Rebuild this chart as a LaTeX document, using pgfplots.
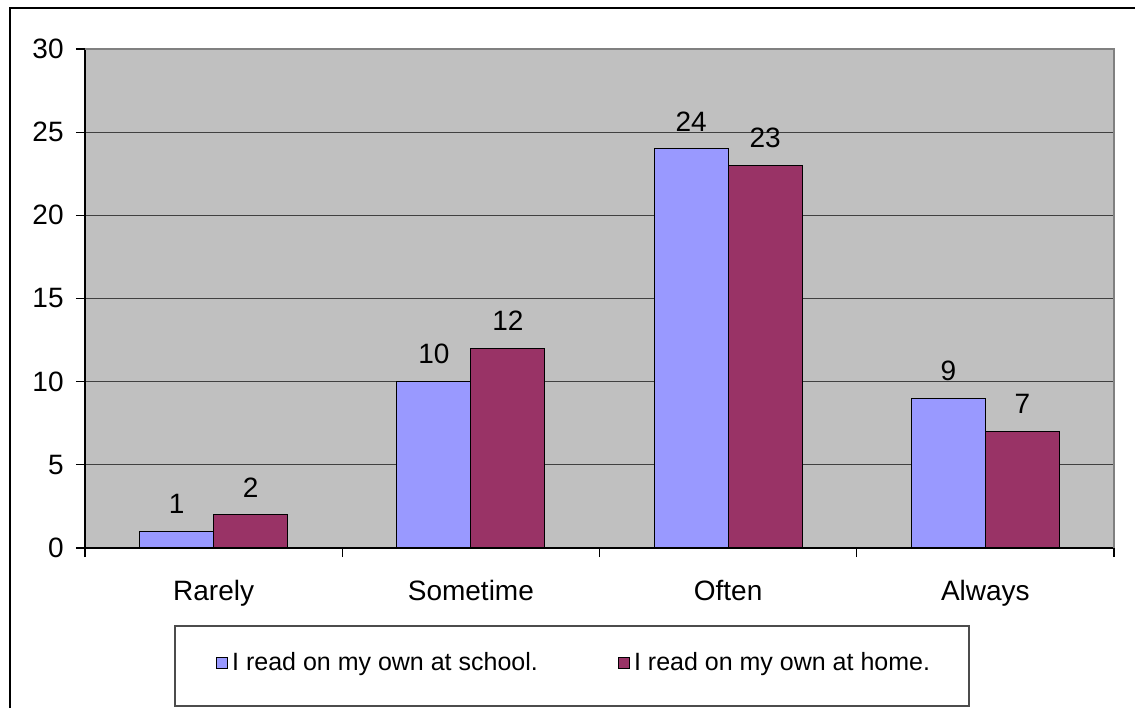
\documentclass[border=0pt]{standalone}
\usepackage{pgfplots}
\pgfplotsset{compat=1.18}
\usepackage{fontspec}
\setmainfont{Liberation Sans}
\definecolor{plotbg}{HTML}{C0C0C0}
\definecolor{sblue}{HTML}{9999FF}
\definecolor{smaroon}{HTML}{993366}
\definecolor{gridc}{HTML}{404040}
\begin{document}
\begin{tikzpicture}[font=\fontsize{14}{16}\selectfont]
\path[use as bounding box] (0,0) rectangle (567.5pt,354pt);
\draw[line width=1pt] (5pt,0pt) -- (5pt,350pt) -- (567.5pt,350pt);
\draw[line width=0.6pt, black!70] (87.5pt,1pt) rectangle (484.5pt,41pt);
\begin{axis}[
  at={(42.5pt,80pt)}, anchor=south west,
  scale only axis, width=514.5pt, height=249.5pt,
  clip=false,
  xmin=-0.5, xmax=3.5, ymin=0, ymax=30,
  ybar=0pt, bar width=37pt,
  axis lines*=left,
  axis line style={black, line width=0.6pt},
  axis background/.style={fill=plotbg},
  xtick={0,1,2,3},
  xticklabels={Rarely,Sometime,Often,Always},
  minor xtick={-0.5,0.5,1.5,2.5,3.5},
  major x tick style={draw=none},
  minor x tick style={black, line width=0.6pt},
  ytick={0,5,10,15,20,25,30},
  y tick style={black, line width=0.6pt},
  tick align=outside,
  major tick length=4.5pt, minor tick length=4.5pt,
  ymajorgrids,
  major grid style={gridc, line width=0.6pt},
  /pgf/number format/assume math mode=true,
  ticklabel style={font=\fontsize{14}{16}\selectfont},
  xticklabel style={inner sep=0pt, anchor=north, yshift=-11.5pt},
  yticklabel style={inner sep=0pt, anchor=east, xshift=-6pt},
  nodes near coords,
  nodes near coords style={font=\fontsize{14}{16}\selectfont, inner sep=0pt, anchor=south, yshift=8.5pt, black},
  legend columns=2,
  legend style={draw=none, fill=none, at={(axis description cs:0.4762,-0.2305)}, anchor=center,
    font=\fontsize{12.5}{14}\selectfont,
    nodes={inner sep=2pt},
    /tikz/every even column/.append style={column sep=38pt}},
  legend image code/.code={\draw[#1, draw=black, line width=0.6pt] (0pt,-2.75pt) rectangle (5.5pt,2.75pt);},
]
\addplot[fill=sblue, draw=black, line width=0.6pt] coordinates {(0,1) (1,10) (2,24) (3,9)};
\addplot[fill=smaroon, draw=black, line width=0.6pt] coordinates {(0,2) (1,12) (2,23) (3,7)};
\legend{I read on my own at school.,I read on my own at home.}
\draw[black!50, line width=0.6pt] (rel axis cs:0,1) -- (rel axis cs:1,1) -- (rel axis cs:1,0);
\end{axis}
\end{tikzpicture}
\end{document}
